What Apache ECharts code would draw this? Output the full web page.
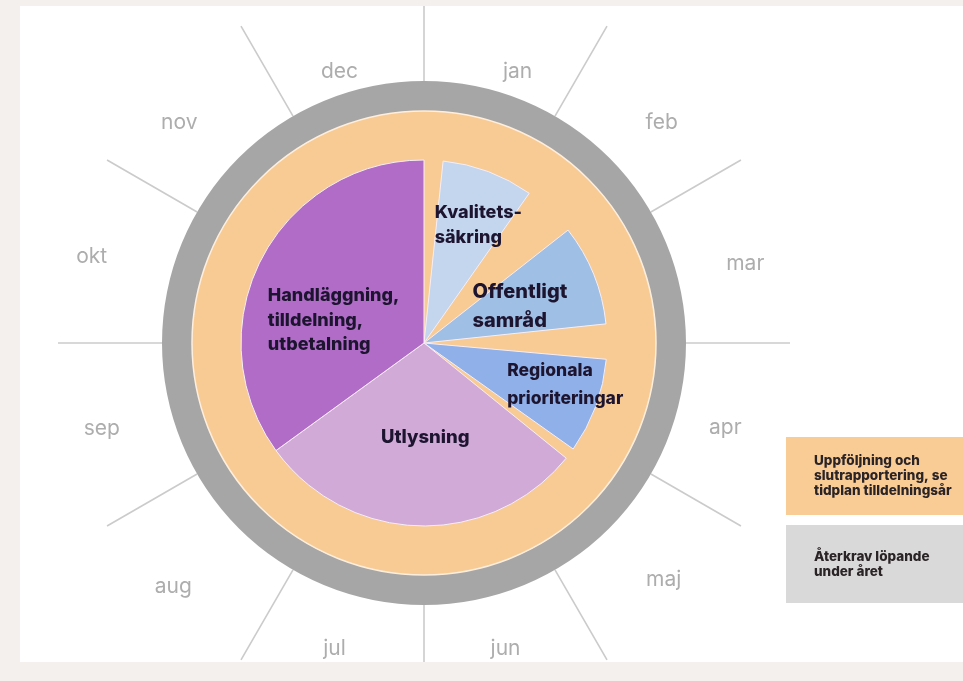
<!DOCTYPE html>
<html>
<head>
<meta charset="utf-8">
<script src="https://cdn.jsdelivr.net/npm/echarts@6/dist/echarts.min.js"></script>
<style>
html,body{margin:0;padding:0;width:963px;height:681px;overflow:hidden;background:#f3f0ed;}
#chart{position:absolute;left:20px;top:6px;width:943px;height:656px;background:#ffffff;}
</style>
</head>
<body>
<div id="chart"></div>
<script>
// ---------- DATA ----------
const months = ['jan','feb','mar','apr','maj','jun','jul','aug','sep','okt','nov','dec'];
const monthWeight = [1,1,1,1,1,1,1,1,1,1,1,1];

// yearly phases, in months counted from 1 January (clockwise from top)
const phaseNames  = ['Kvalitetssäkring','Offentligt samråd','Regionala prioriteringar','Utlysning','Handläggning, tilldelning, utbetalning'];
const phaseStart  = [0.2, 1.73, 3.17, 4.3, 7.8];
const phaseEnd    = [1.17, 2.8, 4.18, 7.8, 12];
const phaseLines  = [['Kvalitets-','säkring'],['Offentligt','samråd'],['Regionala','prioriteringar'],['Utlysning'],['Handläggning,','tilldelning,','utbetalning']];

// background rings (whole year)
const ringNames = ['Uppföljning och\nslutrapportering, se\ntidplan tilldelningsår','Återkrav löpande\nunder året'];
const ringValues = [12, 12];

// ---------- STYLE ----------
const FONT = 'Inter, "Noto Sans", "Liberation Sans", sans-serif';
const CENTER = [404, 337];
const phaseColors = ['#c3d6ee','#a0bfe5','#8fb0e8','#d2aad8','#b06cc7'];
const phaseFont   = [18, 20, 17.5, 18.5, 18];
const phaseLineH  = [25, 29, 28, 22, 24.5];
const phaseBoxW   = [93, 88, 125, 91, 128];
const phaseOffset = [[24,-29],[5,-1],[57,9],[5,0],[-8,20]];
const monthNudge  = [[12,33],[15,2],[17,2],[-3,3],[17,14],[0,1],[-8,1],[-28,21],[-18,4],[-28,-5],[-22,2],[-3,33]];

// ---------- BUILD ----------
const innerData = [];
let cursor = 0;
phaseNames.forEach((n, i) => {
  if (phaseStart[i] > cursor) {
    innerData.push({
      name: 'gap' + i, value: phaseStart[i] - cursor,
      itemStyle: { color: 'rgba(0,0,0,0)', borderWidth: 0 },
      label: { show: false }, emphasis: { disabled: true }
    });
  }
  innerData.push({
    name: n, value: phaseEnd[i] - phaseStart[i],
    itemStyle: { color: phaseColors[i] },
    label: {
      show: true, position: 'inside', offset: phaseOffset[i],
      formatter: phaseLines[i].map(t => '{t|' + t + '}').join('\n'),
      rich: { t: { width: phaseBoxW[i], align: 'left', fontSize: phaseFont[i], lineHeight: phaseLineH[i], fontWeight: 800, color: '#1d1530', fontFamily: FONT } }
    }
  });
  cursor = phaseEnd[i];
});

const chart = echarts.init(document.getElementById('chart'), null, { renderer: 'canvas' });
chart.setOption({
  animation: false,
  backgroundColor: '#ffffff',
  polar: { center: CENTER, radius: [262, 366] },
  angleAxis: {
    type: 'category', data: months, startAngle: 90, clockwise: true, boundaryGap: true,
    axisLine: { show: false }, axisTick: { show: false }, axisLabel: { show: false },
    splitLine: { show: true, lineStyle: { color: '#cbcbcb', width: 1.6 } }
  },
  radiusAxis: { type: 'value', show: false, splitLine: { show: false } },
  legend: {
    orient: 'vertical', left: 760, top: 431, padding: 0, itemGap: 10,
    itemWidth: 0, itemHeight: 0, icon: 'rect', selectedMode: false,
    textStyle: { fontFamily: FONT, fontSize: 13.5, fontWeight: 800, color: '#2b2427', lineHeight: 15, width: 150 },
    data: [
      { name: ringNames[0], textStyle: { backgroundColor: '#f9cc96', padding: [19, 0, 14, 28] } },
      { name: ringNames[1], textStyle: { backgroundColor: '#d9d9d9', padding: [24, 0, 24, 28] } }
    ]
  },
  series: [
    {
      type: 'pie', name: 'months', center: CENTER, radius: [262, 362], silent: true,
      startAngle: 90, clockwise: true,
      itemStyle: { color: 'rgba(0,0,0,0)', borderWidth: 0 },
      emphasis: { disabled: true },
      label: { show: true, position: 'inside', fontFamily: FONT, fontSize: 21, fontWeight: 400, color: '#adadad' },
      labelLine: { show: false },
      data: months.map((m, i) => ({ name: m, value: monthWeight[i], label: { offset: monthNudge[i] } }))
    },
    {
      type: 'pie', name: 'återkrav', center: CENTER, radius: [232, 262], silent: true,
      label: { show: false }, labelLine: { show: false }, emphasis: { disabled: true },
      data: [{ name: ringNames[1], value: ringValues[1], itemStyle: { color: '#a6a6a6' } }]
    },
    {
      type: 'pie', name: 'uppföljning', center: CENTER, radius: [0, 232], silent: true,
      label: { show: false }, labelLine: { show: false }, emphasis: { disabled: true },
      data: [{ name: ringNames[0], value: ringValues[0], itemStyle: { color: '#f8cb94', borderColor: '#fdeedd', borderWidth: 1.5 } }]
    },
    {
      type: 'pie', name: 'faser', center: CENTER, radius: [0, 183], silent: true,
      startAngle: 90, clockwise: true,
      itemStyle: { borderColor: '#f7eef6', borderWidth: 1 },
      emphasis: { disabled: true },
      labelLine: { show: false },
      data: innerData
    }
  ]
});
</script>
</body>
</html>
